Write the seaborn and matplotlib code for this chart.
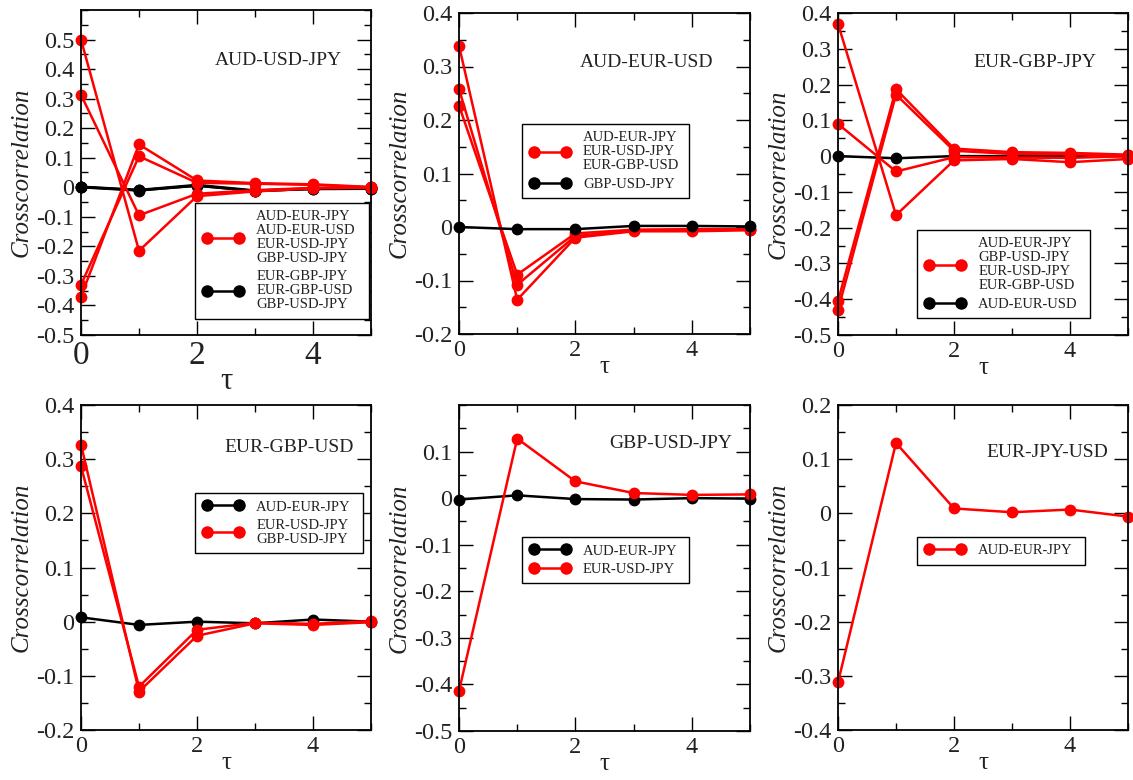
import matplotlib
matplotlib.use("Agg")
import matplotlib.pyplot as plt
import seaborn as sns
import numpy as np
import pandas as pd
from matplotlib.lines import Line2D
from matplotlib.ticker import MultipleLocator

sns.set_theme(style="white")
plt.rcParams['font.family'] = ['Liberation Serif', 'DejaVu Serif']
plt.rcParams['mathtext.fontset'] = 'stix'

tau = [0, 1, 2, 3, 4, 5]

# Panel 1: AUD-USD-JPY
p1_title = "AUD-USD-JPY"
p1_red = [
    [0.50, -0.215, -0.030, -0.014, -0.004, 0.000],
    [0.313, -0.095, -0.022, -0.010, -0.002, -0.002],
    [-0.330, 0.105, 0.015, 0.012, 0.008, 0.000],
    [-0.370, 0.145, 0.023, 0.014, 0.010, 0.001],
]
p1_black = [
    [0.000, -0.011, 0.006, -0.013, -0.005, -0.005],
    [0.002, -0.009, 0.008, -0.011, -0.004, -0.004],
    [0.001, -0.010, 0.005, -0.012, -0.006, -0.005],
]
p1_red_label = "AUD-EUR-JPY\nAUD-EUR-USD\nEUR-USD-JPY\nGBP-USD-JPY"
p1_black_label = "EUR-GBP-JPY\nEUR-GBP-USD\nGBP-USD-JPY"
p1_yticks = [-0.5, -0.4, -0.3, -0.2, -0.1, 0, 0.1, 0.2, 0.3, 0.4, 0.5]
p1_ylim = (-0.5, 0.6)

# Panel 2: AUD-EUR-USD
p2_title = "AUD-EUR-USD"
p2_red = [
    [0.339, -0.136, -0.020, -0.008, -0.008, -0.006],
    [0.258, -0.108, -0.017, -0.006, -0.006, -0.005],
    [0.227, -0.089, -0.012, -0.005, -0.004, -0.004],
]
p2_black = [
    [0.000, -0.004, -0.004, 0.002, 0.002, 0.001],
]
p2_red_label = "AUD-EUR-JPY\nEUR-USD-JPY\nEUR-GBP-USD"
p2_black_label = "GBP-USD-JPY"
p2_yticks = [-0.2, -0.1, 0, 0.1, 0.2, 0.3, 0.4]
p2_ylim = (-0.2, 0.4)

# Panel 3: EUR-GBP-JPY
p3_title = "EUR-GBP-JPY"
p3_red = [
    [0.370, -0.165, -0.012, -0.008, -0.017, -0.008],
    [0.090, -0.043, -0.003, -0.004, -0.005, 0.000],
    [-0.405, 0.187, 0.021, 0.011, 0.009, 0.004],
    [-0.430, 0.172, 0.015, 0.006, 0.005, 0.002],
]
p3_black = [
    [0.000, -0.006, 0.000, 0.000, 0.000, 0.000],
]
p3_red_label = "AUD-EUR-JPY\nGBP-USD-JPY\nEUR-USD-JPY\nEUR-GBP-USD"
p3_black_label = "AUD-EUR-USD"
p3_yticks = [-0.5, -0.4, -0.3, -0.2, -0.1, 0, 0.1, 0.2, 0.3, 0.4]
p3_ylim = (-0.5, 0.4)

# Panel 4: EUR-GBP-USD
p4_title = "EUR-GBP-USD"
p4_black = [
    [0.008, -0.006, 0.000, -0.003, 0.004, 0.000],
]
p4_red = [
    [0.327, -0.129, -0.026, -0.003, -0.006, -0.001],
    [0.287, -0.120, -0.015, -0.002, -0.004, 0.001],
]
p4_black_label = "AUD-EUR-JPY"
p4_red_label = "EUR-USD-JPY\nGBP-USD-JPY"
p4_yticks = [-0.2, -0.1, 0, 0.1, 0.2, 0.3, 0.4]
p4_ylim = (-0.2, 0.4)

# Panel 5: GBP-USD-JPY
p5_title = "GBP-USD-JPY"
p5_black = [
    [-0.003, 0.006, -0.002, -0.003, 0.000, -0.001],
]
p5_red = [
    [-0.414, 0.128, 0.036, 0.011, 0.007, 0.008],
]
p5_black_label = "AUD-EUR-JPY"
p5_red_label = "EUR-USD-JPY"
p5_yticks = [-0.5, -0.4, -0.3, -0.2, -0.1, 0, 0.1]
p5_ylim = (-0.5, 0.2)

# Panel 6: EUR-JPY-USD
p6_title = "EUR-JPY-USD"
p6_red = [
    [-0.312, 0.130, 0.009, 0.002, 0.007, -0.006],
]
p6_red_label = "AUD-EUR-JPY"
p6_yticks = [-0.4, -0.3, -0.2, -0.1, 0, 0.1, 0.2]
p6_ylim = (-0.4, 0.2)

xticks = [0, 2, 4]

W, H = 1133, 780
fig = plt.figure(figsize=(W / 100, H / 100), dpi=100)

def add_ax(left, right, top, bottom):
    return fig.add_axes([left / W, 1 - bottom / H, (right - left) / W, (bottom - top) / H])

RED = "#ff0000"
BLACK = "#000000"
TXT = "#222222"

def draw_series(ax, series, color):
    for s in series:
        df = pd.DataFrame({"tau": tau, "val": s})
        sns.lineplot(data=df, x="tau", y="val", ax=ax, color=color, marker="o",
                     linewidth=1.8, legend=False, clip_on=False, estimator=None)
    for ln in ax.lines:
        ln.set_markersize(8.5)
        ln.set_markeredgewidth(0)

def style_ax(ax, ylim, yticks, title, tx, ty, xtick_size, tau_size):
    ax.set_xlim(0, 5)
    ax.set_ylim(*ylim)
    ax.set_xticks(xticks)
    ax.xaxis.set_minor_locator(MultipleLocator(1))
    ax.set_yticks(yticks)
    ax.yaxis.set_minor_locator(MultipleLocator(0.05))
    ax.set_yticklabels([("%g" % v) for v in yticks])
    ax.tick_params(which="both", direction="in", top=True, right=True,
                   bottom=True, left=True, color="black")
    ax.tick_params(which="major", length=10, width=1)
    ax.tick_params(which="minor", length=5, width=1)
    ax.tick_params(axis="y", labelsize=17.5, labelcolor=TXT, pad=5)
    ax.tick_params(axis="x", labelsize=xtick_size, labelcolor=TXT, pad=4)
    for sp in ax.spines.values():
        sp.set_color("black")
        sp.set_linewidth(1.3)
    ax.set_xlabel("τ", fontsize=tau_size, color=TXT, labelpad=-3)
    ax.set_ylabel("Crosscorrelation", fontsize=18, style="italic", color=TXT, labelpad=2)
    ax.text(tx, ty, title, transform=ax.transAxes, ha="right", va="center",
            fontsize=14, color=TXT)

def add_legend(ax, entries, x0, ytop, w):
    handles = []
    labels = []
    for color, lab in entries:
        handles.append(Line2D([0], [0], color=color, marker="o", markersize=9,
                              markeredgewidth=0, linewidth=1.8))
        labels.append(lab)
    leg = ax.legend(handles, labels, loc="upper left", bbox_to_anchor=(x0, ytop, w, 0),
                    mode="expand", numpoints=2, handlelength=2.8, handletextpad=0.9,
                    fontsize=10.5, frameon=True, fancybox=False, shadow=False,
                    borderpad=0.5, labelspacing=0.35, borderaxespad=0)
    fr = leg.get_frame()
    fr.set_edgecolor("black")
    fr.set_linewidth(1.0)
    fr.set_facecolor("white")
    fr.set_alpha(1)
    for t in leg.get_texts():
        t.set_linespacing(1.1)
        t.set_color(TXT)
    return leg

# Panel 1
ax1 = add_ax(81, 371, 10, 335)
draw_series(ax1, p1_black, BLACK)
draw_series(ax1, p1_red, RED)
style_ax(ax1, p1_ylim, p1_yticks, p1_title, 0.90, 0.846, 24, 22)
add_legend(ax1, [(RED, p1_red_label), (BLACK, p1_black_label)], 0.393, 0.406, 0.60)

# Panel 2
ax2 = add_ax(459, 750, 13, 334)
draw_series(ax2, p2_red, RED)
draw_series(ax2, p2_black, BLACK)
style_ax(ax2, p2_ylim, p2_yticks, p2_title, 0.873, 0.846, 17.5, 18)
add_legend(ax2, [(RED, p2_red_label), (BLACK, p2_black_label)], 0.216, 0.654, 0.574)

# Panel 3
ax3 = add_ax(838, 1128, 13, 335)
draw_series(ax3, p3_black, BLACK)
draw_series(ax3, p3_red, RED)
style_ax(ax3, p3_ylim, p3_yticks, p3_title, 0.89, 0.846, 17.5, 18)
add_legend(ax3, [(RED, p3_red_label), (BLACK, p3_black_label)], 0.272, 0.326, 0.597)

# Panel 4
ax4 = add_ax(81, 371, 405, 730)
draw_series(ax4, p4_black, BLACK)
draw_series(ax4, p4_red, RED)
style_ax(ax4, p4_ylim, p4_yticks, p4_title, 0.94, 0.87, 17.5, 18)
add_legend(ax4, [(BLACK, p4_black_label), (RED, p4_red_label)], 0.393, 0.729, 0.579)

# Panel 5
ax5 = add_ax(459, 750, 405, 731)
draw_series(ax5, p5_black, BLACK)
draw_series(ax5, p5_red, RED)
style_ax(ax5, p5_ylim, p5_yticks, p5_title, 0.94, 0.883, 17.5, 18)
add_legend(ax5, [(BLACK, p5_black_label), (RED, p5_red_label)], 0.216, 0.595, 0.574)

# Panel 6
ax6 = add_ax(838, 1128, 405, 730)
draw_series(ax6, p6_red, RED)
style_ax(ax6, p6_ylim, p6_yticks, p6_title, 0.93, 0.855, 17.5, 18)
add_legend(ax6, [(RED, p6_red_label)], 0.272, 0.594, 0.579)

fig.savefig("out.png", dpi=100, facecolor="white")
